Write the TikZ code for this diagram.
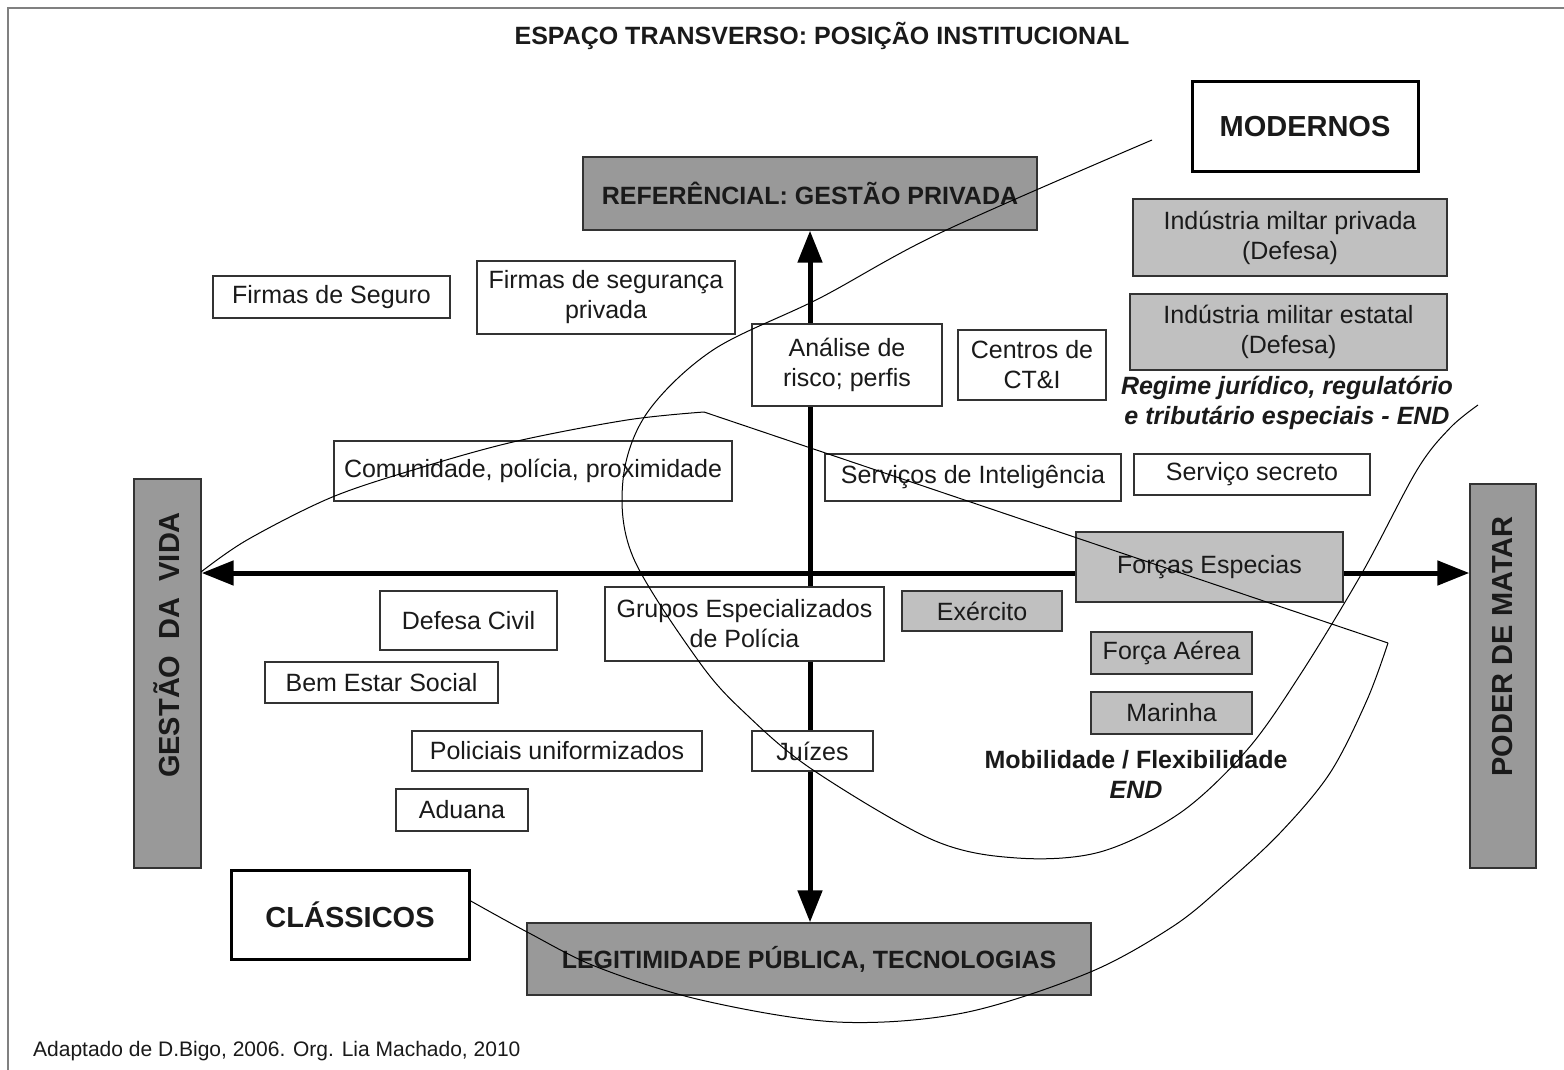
\documentclass[tikz,border=0pt]{standalone}
\usepackage{fontspec}
\setmainfont{Liberation Sans}
\usetikzlibrary{arrows.meta}
\definecolor{darkfill}{HTML}{999999}
\definecolor{lightfill}{HTML}{C0C0C0}
\definecolor{edge}{HTML}{333333}
\definecolor{framegray}{HTML}{808080}
\definecolor{ink}{HTML}{1A1A1A}
\begin{document}
\begin{tikzpicture}[x=1pt,y=-1pt,
  box/.style={draw=edge, line width=1.4pt, fill=white, inner sep=0pt, align=center,
    font=\fontsize{25}{30}\selectfont, text=ink},
  graybox/.style={box, fill=lightfill},
  darkbox/.style={box, fill=darkfill, font=\fontsize{25}{30}\selectfont\bfseries},
  bigbox/.style={box, line width=3pt, draw=black, font=\fontsize{29}{34}\selectfont\bfseries},
  bartext/.style={rotate=90, inner sep=0pt, font=\fontsize{29}{34}\selectfont\bfseries, text=ink},
  note/.style={inner sep=0pt, align=center, font=\fontsize{25}{30}\selectfont\bfseries\itshape, text=ink},
  axisline/.style={line width=5pt, {Triangle[length=32pt,width=24pt]}-{Triangle[length=32pt,width=24pt]}},
  curve/.style={line width=1pt, draw=black},
]
\useasboundingbox (0,0) rectangle (1564,1070);
\fill[white] (0,0) rectangle (1564,1070);
\draw[framegray, line width=2pt] (8,8) rectangle (1600,1100);

% title and footer
\node[inner sep=0pt, anchor=base, font=\fontsize{25}{30}\selectfont\bfseries, text=ink] (title) at (822,45) {ESPAÇO TRANSVERSO: POSIÇÃO INSTITUCIONAL};
\node[inner sep=0pt, anchor=base west, font=\fontsize{21}{25}\selectfont, text=ink] (foot) at (33,1056) {Adaptado de D.Bigo, 2006. Org. Lia Machado, 2010};

% pole boxes
\node[darkbox, minimum width=454pt, minimum height=73pt] (ref) at (810,193.5) {REFERÊNCIAL: GESTÃO PRIVADA};
\node[darkbox, minimum width=564pt, minimum height=72pt] (legit) at (809,959) {LEGITIMIDADE PÚBLICA, TECNOLOGIAS};
\node[darkbox, minimum width=67pt, minimum height=389pt] (gestaobar) at (167.5,673.5) {};
\node[bartext] (gestaotxt) at (167,645) {GESTÃO\ \ DA\ \ VIDA};
\node[darkbox, minimum width=66pt, minimum height=384pt] (poderbar) at (1503,676) {};
\node[bartext] (podertxt) at (1503,646.5) {PODER DE MATAR};

% axes
\coordinate (origin) at (810,573);
\draw[axisline] (origin -| gestaobar.east) -- (origin -| poderbar.west);
\draw[axisline] (origin |- ref.south) -- (origin |- legit.north);

% big labels
\node[bigbox, minimum width=226pt, minimum height=90pt] (modernos) at (1305,127) {MODERNOS};
\node[bigbox, minimum width=238pt, minimum height=89pt] (classicos) at (350,914.5) {CLÁSSICOS};

% white boxes
\node[box, minimum width=237pt, minimum height=42pt] (seguro) at (331.5,297) {Firmas de Seguro};
\node[box, minimum width=258pt, minimum height=73pt] (segpriv) at (606,297.5) {Firmas de segurança\\privada};
\node[box, minimum width=190pt, minimum height=82pt] (analise) at (847,365) {Análise de\\risco; perfis};
\node[box, minimum width=148pt, minimum height=70pt] (centros) at (1032,365) {Centros de\\CT\&I};
\node[box, minimum width=398pt, minimum height=60pt] (comunidade) at (533,471) {Comunidade, polícia, proximidade};
\node[box, minimum width=296pt, minimum height=47pt] (servicos) at (973,477.5) {Serviços de Inteligência};
\node[box, minimum width=236pt, minimum height=41pt] (secreto) at (1252,474.5) {Serviço secreto};
\node[box, minimum width=177pt, minimum height=59pt] (defesa) at (468.5,620.5) {Defesa Civil};
\node[box, minimum width=279pt, minimum height=74pt] (grupos) at (744.5,624) {Grupos Especializados\\de Polícia};
\node[box, minimum width=233pt, minimum height=41pt] (bem) at (381.5,682.5) {Bem Estar Social};
\node[box, minimum width=290pt, minimum height=40pt] (policiais) at (557,751) {Policiais uniformizados};
\node[box, minimum width=121pt, minimum height=40pt] (juizes) at (812.5,751) {Juízes};
\node[box, minimum width=132pt, minimum height=42pt] (aduana) at (462,810) {Aduana};

% gray boxes
\node[graybox, minimum width=314pt, minimum height=77pt] (indpriv) at (1290,237.5) {Indústria miltar privada\\(Defesa)};
\node[graybox, minimum width=317pt, minimum height=76pt] (indest) at (1288.5,332) {Indústria militar estatal\\(Defesa)};
\node[graybox, minimum width=267pt, minimum height=70pt] (forcas) at (1209.5,567) {Forças Especias};
\node[graybox, minimum width=160pt, minimum height=40pt] (exercito) at (982,611) {Exército};
\node[graybox, minimum width=161pt, minimum height=42pt] (aerea) at (1171.5,653) {Força Aérea};
\node[graybox, minimum width=161pt, minimum height=42pt] (marinha) at (1171.5,713) {Marinha};

% notes
\node[note] (regime) at (1287,403) {Regime jurídico, regulatório\\e tributário especiais - END};
\node[note] (mobil) at (1136,774) {\textup{Mobilidade / Flexibilidade}\\END};

% boundary curves
\draw[curve] plot[smooth, tension=0.55] coordinates {
  (1152,140) (940,233) (820,298) (713,350) (647,413) (623,480) (633,557)
  (700,663) (747,715) (813,770) (933,840) (1017,858) (1100,852) (1180,813)
  (1247,750) (1300,675) (1362,573) (1417,470) (1450,428) (1478,405)};
\draw[curve] plot[smooth, tension=0.55] coordinates {
  (201,572) (247,540) (330,498) (413,470) (513,442) (627,420) (704,412)};
\draw[curve] (704,412) -- (1388,643);
\draw[curve] plot[smooth, tension=0.55] coordinates {
  (1388,643) (1367,700) (1330,773) (1280,833) (1224,885) (1172,927) (1088,973)
  (963,1013) (837,1022) (701,1000) (597,967) (529,933) (469,900)};
\end{tikzpicture}
\end{document}
